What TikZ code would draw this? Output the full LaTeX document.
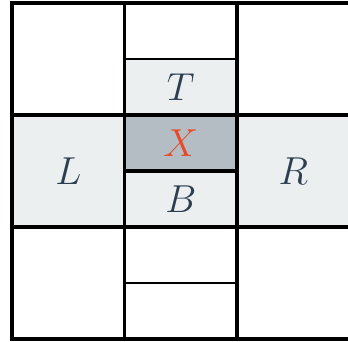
\RequirePackage{fix-cm}
\documentclass[tikz,border=0pt]{standalone}
\definecolor{cellfill}{HTML}{EBEFF0}
\definecolor{xfill}{HTML}{B3BDC3}
\definecolor{ink}{HTML}{2C3E50}
\definecolor{xred}{HTML}{E84A27}
\begin{document}
\begin{tikzpicture}[x=1pt,y=1pt,
  cell/.style={inner sep=0pt, outer sep=0pt, font=\fontsize{39}{40}\selectfont, text=ink},
  midcell/.style={cell, minimum width=112.5pt, minimum height=56pt},
  sidecell/.style={cell, minimum width=112.5pt, minimum height=112pt},
  mainline/.style={line width=3.2pt, black},
  subline/.style={line width=2.6pt, black}]
\useasboundingbox (0,0) rectangle (348,341);
\fill[white] (0,0) rectangle (348,341);
\node[midcell, fill=cellfill] (T) at (180.75,254) {$T$};
\node[midcell, fill=xfill, text=xred] (X) at (180.75,198) {$X$};
\node[midcell, fill=cellfill] (B) at (180.75,142) {$B$};
\node[sidecell, fill=cellfill] (L) at (68.25,170) {$L$};
\node[sidecell, fill=cellfill] (R) at (293.25,170) {$R$};
% sub lines in middle column
\draw[subline] (124.5,282) -- (237,282);
\draw[subline] (124.5,58) -- (237,58);
\draw[mainline] (124.5,170) -- (237,170);
% main grid
\draw[mainline] (12,2) rectangle (349.5,338);
\draw[mainline] (124.5,2) -- (124.5,338);
\draw[mainline] (237,2) -- (237,338);
\draw[mainline] (12,226) -- (349.5,226);
\draw[mainline] (12,114) -- (349.5,114);
\end{tikzpicture}
\end{document}
